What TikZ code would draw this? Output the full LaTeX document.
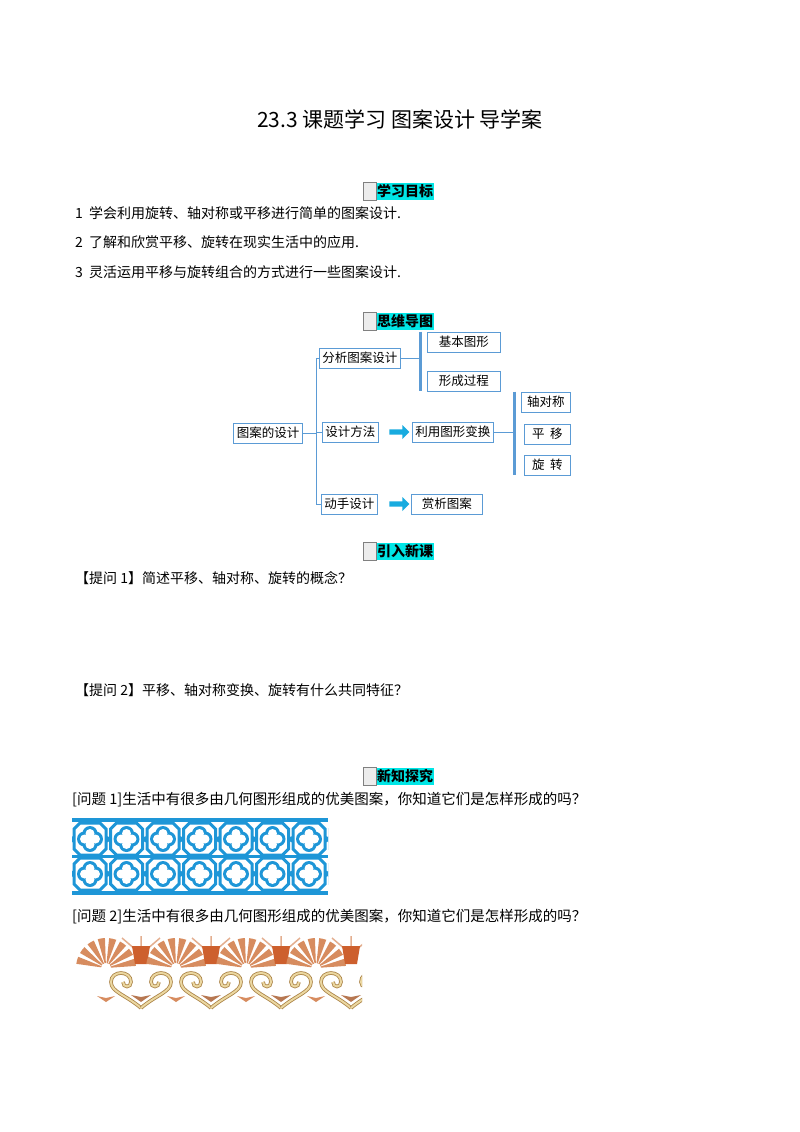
\documentclass[tikz,border=0pt]{standalone}
\usepackage{fontspec}
\setmainfont{Liberation Serif}
\newfontfamily\cjk{Noto Sans CJK SC}
\usetikzlibrary{positioning,shapes.arrows}
\definecolor{mapblue}{RGB}{91,155,213}
\definecolor{latblue}{RGB}{30,150,215}
\definecolor{headcyan}{RGB}{0,230,230}
\definecolor{fanorg}{RGB}{215,140,95}
\definecolor{tulip}{RGB}{205,95,45}
\definecolor{scroll}{RGB}{235,215,160}
\definecolor{scrolledge}{RGB}{170,130,70}
\begin{document}
\begin{tikzpicture}[x=1pt,y=-1pt,
		txt/.style  = {anchor=west, inner sep=0pt, font=\cjk\fontsize{14}{14}\selectfont},
		head/.style = {fill=headcyan, inner sep=1pt, font=\cjk\bfseries\fontsize{14}{14}\selectfont, minimum height=17pt},
		box/.style  = {draw=mapblue, thick, inner sep=3pt, minimum height=20pt, font=\cjk\fontsize{12.5}{12.5}\selectfont},
		brace/.style = {draw=mapblue, line width=3pt},
		bar/.style  = {draw=mapblue, thick},
		fat/.style  = {single arrow, fill=latblue!80!cyan, draw=none, minimum height=20pt, minimum width=14pt, single arrow head extend=2pt, inner sep=1pt},
		curl/.style = {line width=3.6pt, draw=scrolledge, postaction={draw=scroll, line width=2pt}}]
	\useasboundingbox (0,0) rectangle (800,1132);
	
	% Title
	\node[font=\cjk\fontsize{21}{21}\selectfont] (title) at (400,119) {23.3\ 课题学习\ 图案设计\ 导学案};
	
	% Section headers
	\foreach \name/\txt/\yy in {h1/学习目标/191, h2/思维导图/321, h3/引入新课/551, h4/新知探究/776} {
		\node[head, anchor=west] (\name) at (376,\yy) {\txt};
		\draw[gray, fill=gray!15] ([xshift=-13pt]\name.north west) rectangle (\name.south west);
	}
	
	% Goals
	\node[txt] (g1) at (75,213) {1\ \ 学会利用旋转、轴对称或平移进行简单的图案设计.};
	\node[txt] (g2) at (75,242) {2\ \ 了解和欣赏平移、旋转在现实生活中的应用.};
	\node[txt] (g3) at (75,272) {3\ \ 灵活运用平移与旋转组合的方式进行一些图案设计.};
	
	% Mind map
	\node[box] (root) at (268,433) {图案的设计};
	\node[box, anchor=west] (c1) at (319,358) {分析图案设计};
	\node[box, anchor=west] (c2) at (322,432) {设计方法};
	\node[box, anchor=west] (c3) at (321,504) {动手设计};
	\node[box, anchor=west, minimum width=73pt] (c11) at (427,342) {基本图形};
	\node[box, anchor=west, minimum width=73pt] (c12) at (427,381) {形成过程};
	\node[box, anchor=west] (c21) at (412,432) {利用图形变换};
	\node[box, anchor=west, minimum width=71pt] (c31) at (411,504) {赏析图案};
	\node[box, anchor=west, minimum width=49pt] (c211) at (521,402) {轴对称};
	\node[box, anchor=west, minimum width=46pt] (c212) at (524,434) {平\ \ 移};
	\node[box, anchor=west, minimum width=46pt] (c213) at (524,465) {旋\ \ 转};
	
	\coordinate (trunk) at (316,433);
	\draw[bar] (trunk |- c1) -- (trunk |- c3);
	\draw[bar] (root.east) -- (trunk);
	\foreach \value in {1,2,3}
	\draw[bar] (trunk |- c\value) -- (c\value.west);
	
	\coordinate (b1) at (420,358);
	\draw[brace] (b1 |- c11.north) -- (b1 |- c12.south);
	\draw[bar] (c1.east) -- (b1);
	\coordinate (b2) at (514,432);
	\draw[brace] (b2 |- c211.north) -- (b2 |- c213.south);
	\draw[bar] (c21.east) -- (b2);
	
	\node[fat] (a2) at (398,432) {};
	\node[fat] (a3) at (398,504) {};
	
	% Questions
	\node[txt] (q1) at (75,578) {【提问 1】简述平移、轴对称、旋转的概念？};
	\node[txt] (q2) at (75,690) {【提问 2】平移、轴对称变换、旋转有什么共同特征？};
	\node[txt, font=\cjk\fontsize{14.5}{14.5}\selectfont] (p1) at (72,800) {[问题 1]生活中有很多由几何图形组成的优美图案，你知道它们是怎样形成的吗？};
	\node[txt, font=\cjk\fontsize{14.5}{14.5}\selectfont] (p2) at (72,917) {[问题 2]生活中有很多由几何图形组成的优美图案，你知道它们是怎样形成的吗？};
	
	% Lattice pattern
	\begin{scope}
		\clip (72,818) rectangle (328,895);
		\fill[latblue] (72,818) rectangle (328,822);
		\fill[latblue] (72,891) rectangle (328,895);
		\draw[latblue, line width=3pt] (72,856.5) -- (328,856.5);
		\foreach \i in {-1,...,7} {
			\pgfmathsetmacro{\cx}{90+\i*36.5}
			\draw[latblue, line width=3pt] (\cx,822) -- (\cx+36.5,856.5) -- (\cx,891) (\cx+36.5,822) -- (\cx,856.5) -- (\cx+36.5,891);
			\foreach \j in {0,1} {
				\pgfmathsetmacro{\cy}{839+\j*35}
				\fill[white] (\cx,\cy) circle (16);
				\draw[latblue, line width=3pt] (\cx-10,\cy-16) -- (\cx+10,\cy-16) -- (\cx+16,\cy-10) -- (\cx+16,\cy+10) -- (\cx+10,\cy+16) -- (\cx-10,\cy+16) -- (\cx-16,\cy+10) -- (\cx-16,\cy-10) -- cycle;
				\fill[latblue] (\cx-5.5,\cy) circle (7.5) (\cx+5.5,\cy) circle (7.5) (\cx,\cy-5.5) circle (7.5) (\cx,\cy+5.5) circle (7.5);
				\fill[white] (\cx-5.5,\cy) circle (4.5) (\cx+5.5,\cy) circle (4.5) (\cx,\cy-5.5) circle (4.5) (\cx,\cy+5.5) circle (4.5) (\cx,\cy) circle (5);
			}
		}
	\end{scope}
	
	% Palmette frieze
	\begin{scope}
		\clip (72,934) rectangle (362,1014);
		\foreach \i in {0,1,2,3} {
			\pgfmathsetmacro{\px}{106+\i*70}
			\foreach \a in {195,217,...,350}
			\fill[fanorg] (\px,968) -- ++(\a-7:30) arc (\a-7:\a+7:30) -- cycle;
			\fill[white] (\px,968) circle (5);
			\draw[fanorg!70, line width=1.5pt] (\px+35,950) -- ++(0,-14) (\px+30,950) -- ++(-14,-12) (\px+40,950) -- ++(14,-12);
			\fill[tulip] (\px+26,946) -- (\px+44,946) -- (\px+41,964) -- (\px+29,964) -- cycle;
			\draw[curl] (\px+35,1008) .. controls (\px+20,995) and (\px+5,992) .. (\px+5,982) .. controls (\px+5,970) and (\px+25,970) .. (\px+25,982) .. controls (\px+25,988) and (\px+17,988) .. (\px+17,982);
			\draw[curl] (\px+35,1008) .. controls (\px+50,995) and (\px+65,992) .. (\px+65,982) .. controls (\px+65,970) and (\px+45,970) .. (\px+45,982) .. controls (\px+45,988) and (\px+53,988) .. (\px+53,982);
			\fill[fanorg!85!black] (\px+35,1002) -- ++(-10,-7) -- ++(10,2) -- ++(10,-2) -- cycle;
			\fill[fanorg] (\px,1002) -- ++(-9,-6) -- ++(9,2) -- ++(9,-2) -- cycle;
		}
	\end{scope}
\end{tikzpicture}
\end{document}
